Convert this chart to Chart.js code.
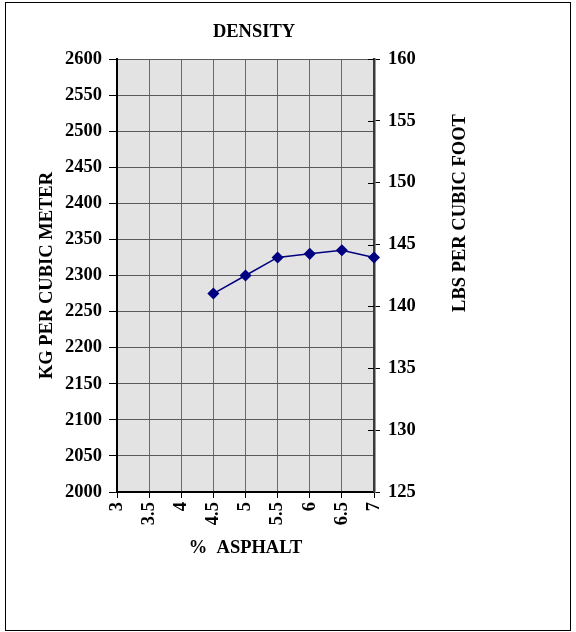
<!DOCTYPE html>
<html>
<head>
<meta charset="utf-8">
<title>Density</title>
<script src="https://cdn.jsdelivr.net/npm/chart.js@4.4.1/dist/chart.umd.min.js"></script>
<style>
  body { margin: 0; background: #fff; }
  #wrap { position: relative; width: 576px; height: 632px; }
  #frame {
    position: absolute; left: 5px; top: 2px; width: 564px; height: 627px;
    border: 1px solid #000; pointer-events: none;
  }
  canvas { position: absolute; left: 0; top: 0; }
</style>
</head>
<body>
<div id="wrap">
  <canvas id="densityChart" width="576" height="632"></canvas>
  <div id="frame"></div>
</div>
<script>
// ---- data ----
const asphalt = [4.5, 5, 5.5, 6, 6.5, 7];
const densityKg = [2275, 2300, 2325, 2330, 2335, 2325];
const xTicks = [3, 3.5, 4, 4.5, 5, 5.5, 6, 6.5, 7];
const kgTicks = [2000, 2050, 2100, 2150, 2200, 2250, 2300, 2350, 2400, 2450, 2500, 2550, 2600];
const lbsTicks = [125, 130, 135, 140, 145, 150, 155, 160];

const FONT = "'Liberation Serif', 'Times New Roman', serif";
const font = (size) => ({ family: FONT, size, weight: "bold" });

// grey plot background
const plotBg = {
  id: "plotBg",
  beforeDraw(chart) {
    const { ctx, chartArea: a } = chart;
    ctx.save();
    ctx.fillStyle = "#e3e3e3";
    ctx.fillRect(a.left, a.top, a.right - a.left, a.bottom - a.top);
    ctx.restore();
  },
};

// title (off-centre like the original), right axis inner ticks + its title
const extras = {
  id: "extras",
  afterDraw(chart) {
    const { ctx } = chart;
    const s = chart.scales.y1;
    ctx.save();
    ctx.strokeStyle = "#000";
    ctx.lineWidth = 1;
    s.ticks.forEach((t) => {
      const y = Math.round(s.getPixelForValue(t.value)) + 0.5;
      ctx.beginPath();
      ctx.moveTo(s.left - 6, y);
      ctx.lineTo(s.left, y);
      ctx.stroke();
    });
    ctx.font = "bold 18.5px " + FONT;
    ctx.fillStyle = "#000";
    ctx.textAlign = "center";
    ctx.textBaseline = "middle";
    ctx.fillText("DENSITY", 254, 32);
    ctx.translate(460, 213);
    ctx.rotate(-Math.PI / 2);
    ctx.fillText("LBS PER CUBIC FOOT", 0, 0);
    ctx.restore();
  },
};

new Chart(document.getElementById("densityChart"), {
  type: "line",
  data: {
    datasets: [
      {
        data: asphalt.map((x, i) => ({ x, y: densityKg[i] })),
        borderColor: "#000080",
        backgroundColor: "#000080",
        borderWidth: 1.5,
        pointStyle: "rectRot",
        pointRadius: 5,
        pointBackgroundColor: "#000080",
        pointBorderColor: "#000080",
        tension: 0,
        clip: false,
        yAxisID: "y",
      },
    ],
  },
  options: {
    responsive: false,
    devicePixelRatio: 1,
    animation: false,
    layout: { padding: { left: 6, right: 102, top: 59, bottom: 64 } },
    plugins: {
      legend: { display: false },
      tooltip: { enabled: false },
      title: { display: false },
    },
    scales: {
      x: {
        type: "linear",
        min: 3,
        max: 7,
        afterBuildTicks: (s) => { s.ticks = xTicks.map((v) => ({ value: v })); },
        afterFit: (s) => { s.height = 76; },
        ticks: {
          color: "#000",
          font: font(18.5),
          minRotation: 90,
          maxRotation: 90,
          padding: 4,
          callback: (v) => String(v),
        },
        grid: { color: "#6a6a6a", tickColor: "#000", tickLength: 6 },
        border: { color: "#000", width: 2 },
        title: {
          display: true,
          text: "%  ASPHALT",
          color: "#000",
          font: font(18.5),
          padding: { top: 0, bottom: 8.9 },
        },
      },
      y: {
        position: "left",
        min: 2000,
        max: 2600,
        afterBuildTicks: (s) => { s.ticks = kgTicks.map((v) => ({ value: v })); },
        afterFit: (s) => { s.width = 111; },
        ticks: { color: "#000", font: font(18.5), padding: 7, callback: (v) => String(v) },
        grid: { color: "#5a5a5a", tickColor: "#000", tickLength: 8 },
        border: { color: "#000", width: 2 },
        title: {
          display: true,
          text: "KG PER CUBIC METER",
          color: "#000",
          font: font(18.5),
          padding: { top: 29.9, bottom: 0 },
        },
      },
      y1: {
        position: "right",
        min: 125,
        max: 160,
        afterBuildTicks: (s) => { s.ticks = lbsTicks.map((v) => ({ value: v })); },
        afterFit: (s) => { s.width = 100; },
        ticks: { color: "#000", font: font(18.5), padding: 8, callback: (v) => String(v) },
        grid: { drawOnChartArea: false, tickColor: "#000", tickLength: 6 },
        border: { color: "#3a3a3a", width: 2.5 },
      },
    },
  },
  plugins: [plotBg, extras],
});
</script>
</body>
</html>
